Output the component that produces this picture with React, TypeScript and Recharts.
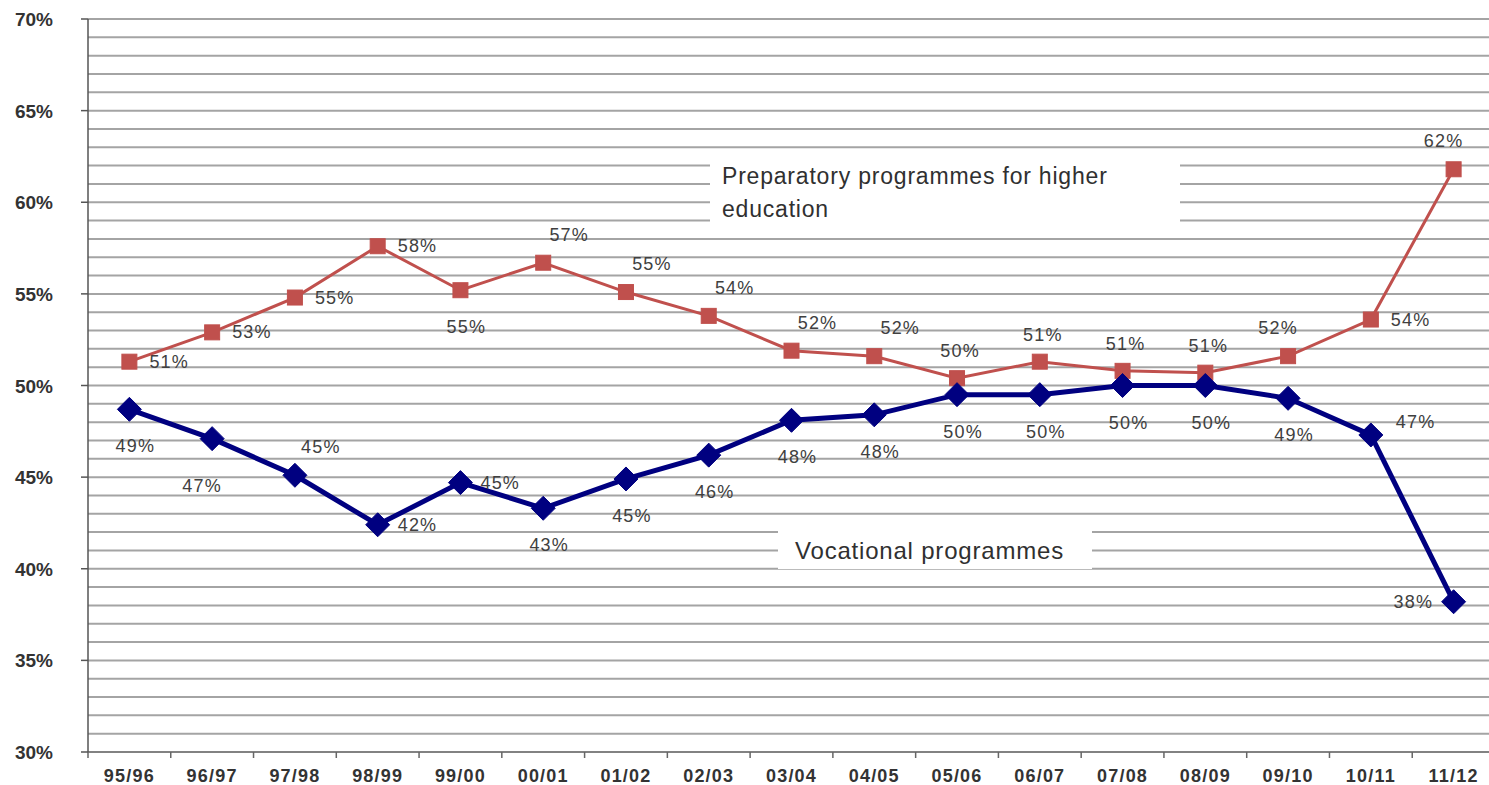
import React from 'react';
import { LineChart, Line, XAxis, YAxis, CartesianGrid, LabelList } from 'recharts';

const CATEGORIES = ['95/96', '96/97', '97/98', '98/99', '99/00', '00/01', '01/02', '02/03', '03/04', '04/05', '05/06', '06/07', '07/08', '08/09', '09/10', '10/11', '11/12'];
const PREPARATORY = [51.3, 52.9, 54.8, 57.6, 55.2, 56.7, 55.1, 53.8, 51.9, 51.6, 50.4, 51.3, 50.8, 50.7, 51.6, 53.6, 61.8];
const VOCATIONAL = [48.7, 47.1, 45.1, 42.4, 44.7, 43.3, 44.9, 46.2, 48.1, 48.4, 49.5, 49.5, 50.0, 50.0, 49.3, 47.3, 38.2];
const PREP_LABEL_SIDE = ['right', 'right', 'right', 'right', 'below', 'aboveRight', 'aboveRight', 'aboveRight', 'aboveRight', 'aboveRight', 'above', 'above', 'above', 'above', 'aboveLeft', 'right', 'aboveLeft'];
const VOC_LABEL_SIDE = ['below', 'belowLeft', 'aboveRight', 'right', 'right', 'below', 'below', 'below', 'below', 'below', 'below', 'below', 'below', 'below', 'below', 'rightUp', 'left'];
const Y_TICKS = [30, 31, 32, 33, 34, 35, 36, 37, 38, 39, 40, 41, 42, 43, 44, 45, 46, 47, 48, 49, 50, 51, 52, 53, 54, 55, 56, 57, 58, 59, 60, 61, 62, 63, 64, 65, 66, 67, 68, 69, 70];
const Y_LABELED = [30, 35, 40, 45, 50, 55, 60, 65, 70];

const data = CATEGORIES.map((c, i) => ({ cat: c, prep: PREPARATORY[i], voc: VOCATIONAL[i] }));

const CHART_W = 1495;
const AXIS_X = 88;
const BAND = (CHART_W - AXIS_X) / CATEGORIES.length;
const FONT = '"Liberation Sans", Arial, sans-serif';

const OFFSETS: Record<string, [number, number, string]> = {
  right: [20, 6, 'start'],
  rightUp: [25, -7, 'start'],
  left: [-60, 6, 'start'],
  below: [6, 43, 'middle'],
  belowLeft: [-10, 53, 'middle'],
  above: [3, -21, 'middle'],
  aboveRight: [26, -22, 'middle'],
  aboveLeft: [-10, -22, 'middle'],
};

const makeLabel = (sides: string[]) => (props: any) => {
  const { x, y, value, index } = props;
  const side = sides[index] || 'above';
  const [dx, dy, anchor] = OFFSETS[side];
  return (
    <text x={x + dx} y={y + dy} textAnchor={anchor as any} fontFamily={FONT} fontSize={18} letterSpacing={1.2} fill="#404040">
      {Math.round(value)}%
    </text>
  );
};

const SquareDot = (props: any) => {
  const { cx, cy, index } = props;
  return <rect key={`s${index}`} x={cx - 7.5} y={cy - 7.5} width={15} height={15} fill="#c0504d" stroke="#c0504d" />;
};

const DiamondDot = (props: any) => {
  const { cx, cy, index } = props;
  const r = 12;
  return <polygon key={`d${index}`} points={`${cx},${cy - r} ${cx + r},${cy} ${cx},${cy + r} ${cx - r},${cy}`} fill="#000080" stroke="#000080" />;
};

const YTick = (props: any) => {
  const { x, y, payload } = props;
  if (!Y_LABELED.includes(payload.value)) return <g />;
  return (
    <g>
      <line x1={AXIS_X - 7} x2={AXIS_X} y1={y} y2={y} stroke="#555" strokeWidth={1.5} />
      <text x={x} y={y + 7} textAnchor="end" fontFamily={FONT} fontWeight="bold" fontSize={19} fill="#333">
        {payload.value}%
      </text>
    </g>
  );
};

const XTick = (props: any) => {
  const { x, y, payload, index } = props;
  const left = x - BAND / 2;
  return (
    <g>
      <line x1={left} x2={left} y1={752} y2={758} stroke="#666" strokeWidth={1.5} />
      {index === CATEGORIES.length - 1 && <line x1={x + BAND / 2} x2={x + BAND / 2} y1={752} y2={758} stroke="#666" strokeWidth={1.5} />}
      <text x={x} y={y + 22} textAnchor="middle" fontFamily={FONT} fontWeight="bold" fontSize={18} letterSpacing={1.2} fill="#333">
        {payload.value}
      </text>
    </g>
  );
};

const boxText: React.CSSProperties = {
  position: 'absolute',
  background: '#fff',
  fontFamily: FONT,
  fontSize: 23,
  color: '#303030',
  letterSpacing: 0.8,
  boxSizing: 'border-box',
  whiteSpace: 'nowrap',
};

export default function App() {
  return (
    <div style={{ position: 'absolute', left: 0, top: 0, width: 1489, height: 785, overflow: 'hidden', background: '#fff' }}>
      <LineChart width={CHART_W} height={785} data={data} margin={{ top: 19, right: 0, bottom: 0, left: 0 }}>
        <CartesianGrid vertical={false} stroke="#a4a4a4" strokeWidth={2} />
        <XAxis dataKey="cat" height={33} tick={<XTick />} tickLine={false} interval={0} padding={{ left: BAND / 2, right: BAND / 2 }} stroke="#777" strokeWidth={1.5} />
        <YAxis domain={[30, 70]} ticks={Y_TICKS} interval={0} width={AXIS_X} tick={<YTick />} tickLine={false} tickSize={6} tickMargin={29} stroke="#555" strokeWidth={1.5} />
        <Line dataKey="prep" stroke="#c0504d" strokeWidth={3} dot={SquareDot} isAnimationActive={false}>
          <LabelList dataKey="prep" content={makeLabel(PREP_LABEL_SIDE)} />
        </Line>
        <Line dataKey="voc" stroke="#000080" strokeWidth={5} dot={DiamondDot} isAnimationActive={false}>
          <LabelList dataKey="voc" content={makeLabel(VOC_LABEL_SIDE)} />
        </Line>
      </LineChart>
      <div style={{ ...boxText, left: 710, top: 156, width: 470, height: 77, padding: '4px 0 0 12px', lineHeight: '33px' }}>
        Preparatory programmes for higher<br />education
      </div>
      <div style={{ ...boxText, left: 778, top: 531, width: 314, height: 38, padding: '3px 0 0 17px', lineHeight: '33px', fontSize: 24 }}>
        Vocational programmes
      </div>
    </div>
  );
}
